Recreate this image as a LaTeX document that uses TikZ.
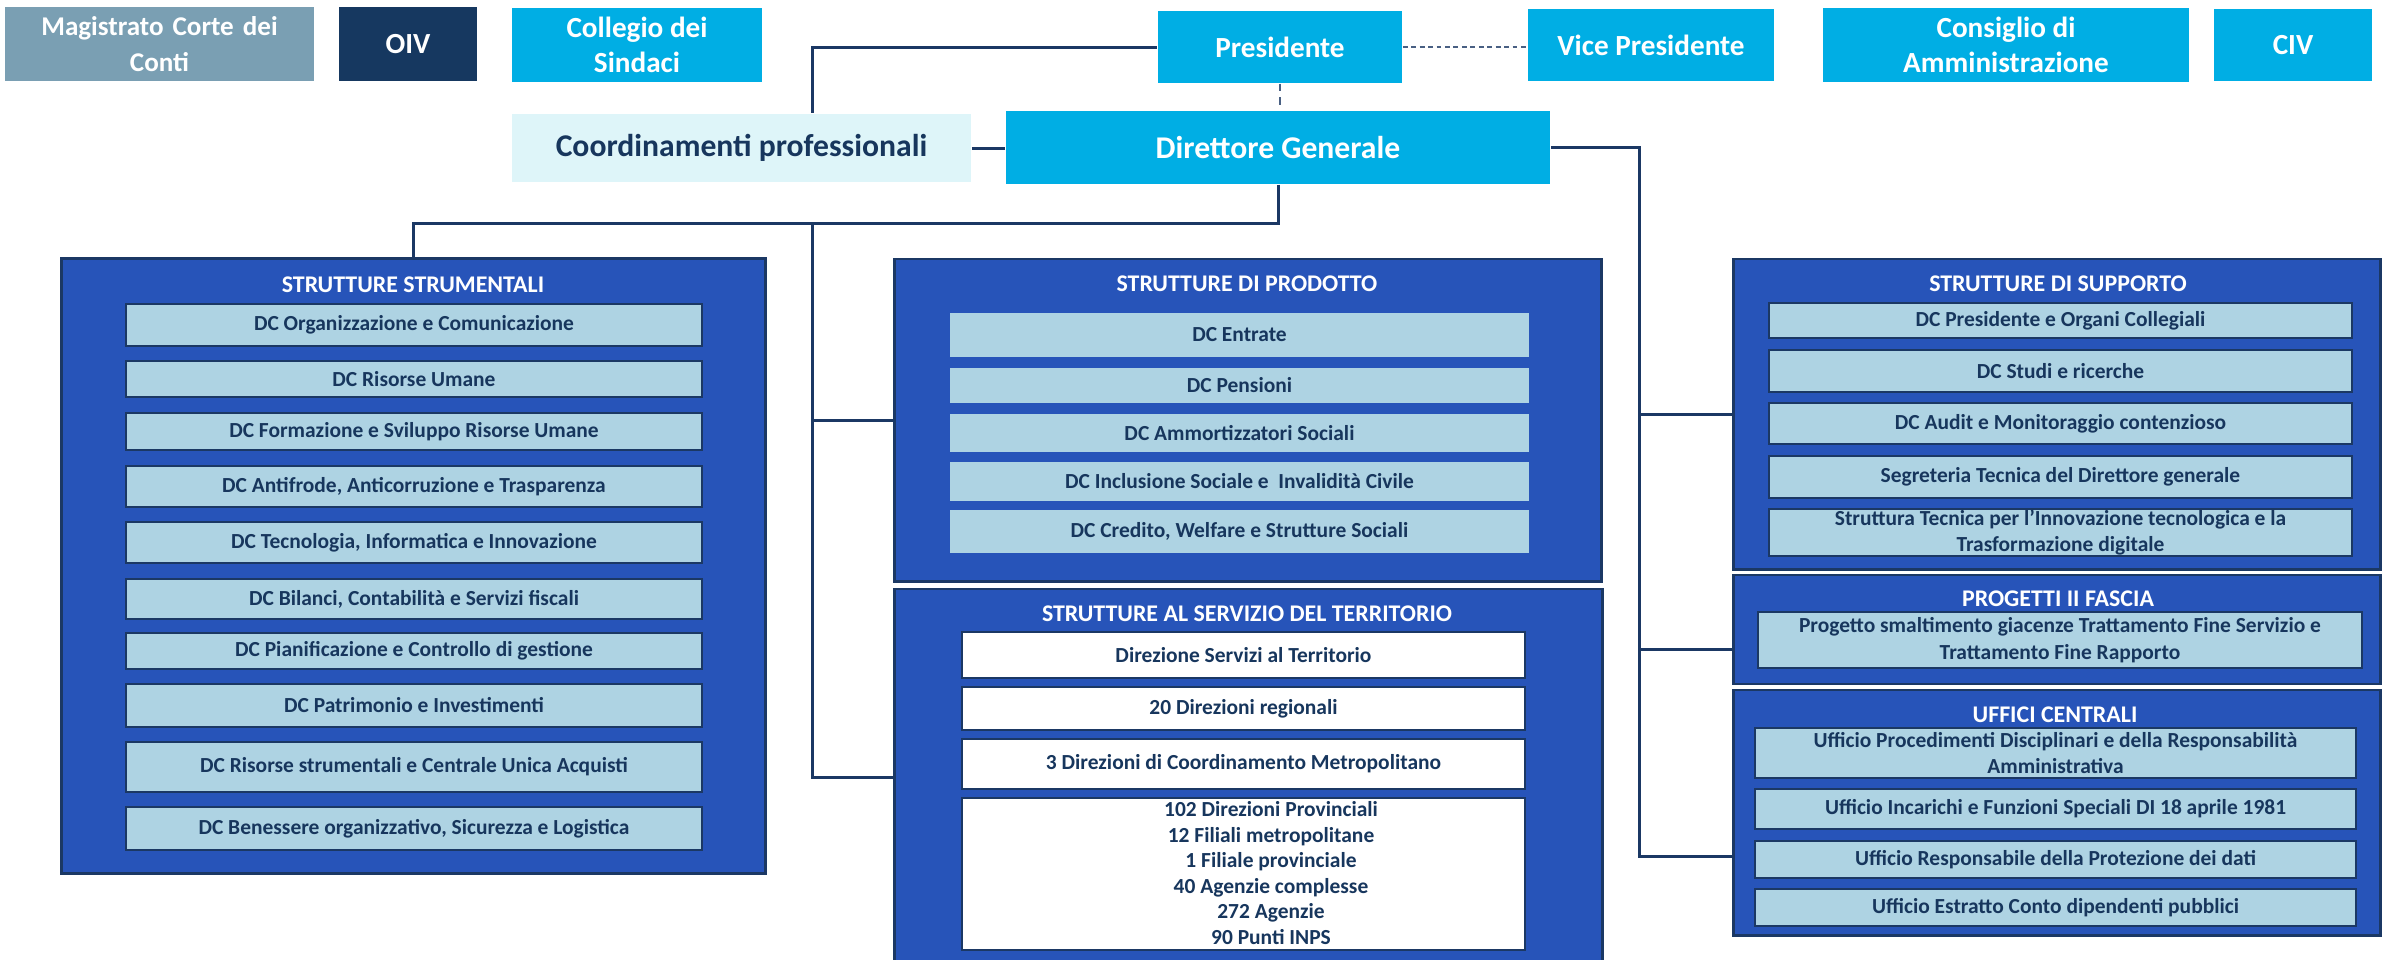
\documentclass[tikz,border=0pt]{standalone}
\usepackage{fontspec}
\setmainfont{Carlito}
\usepackage{tikz}

\begin{document}
\begin{tikzpicture}[x=0.01cm, y=-0.01cm,
        head/.style={inner sep=0pt, align=center, text=white, font=\fontsize{8.3}{10}\selectfont\bfseries},
        group/.style={fill=inblue, draw=innavy, line width=0.8pt, inner sep=0pt},
        grouptitle/.style={inner sep=0pt, text=white, font=\fontsize{6.8}{8}\selectfont\bfseries},
        unit/.style={fill=inlight, draw=innavy, line width=0.7pt, inner sep=0pt, align=center, text=intext, font=\fontsize{6.1}{7.5}\selectfont\bfseries},
        link/.style={draw=innavy, line width=0.85pt},
        dotlink/.style={draw=innavy!80, line width=0.5pt, dash pattern=on 1.4pt off 1pt}]
        % Define colours
        \definecolor{incyan}{RGB}{0,174,228}
        \definecolor{inblue}{RGB}{39,84,185}
        \definecolor{innavy}{RGB}{27,56,100}
        \definecolor{inlight}{RGB}{174,211,227}
        \definecolor{intext}{RGB}{23,54,93}
        \definecolor{ingrey}{RGB}{122,159,179}
        \definecolor{inoiv}{RGB}{22,56,96}
        \definecolor{incoord}{RGB}{222,245,249}
        \useasboundingbox (0,0) rectangle (2382,959);
        \clip (0,0) rectangle (2382,959);

        % Draw the top row
        \node[head, fill=ingrey, minimum width=3.09cm, minimum height=0.74cm, text width=2.9cm,
              font=\fontsize{7.7}{10}\selectfont\bfseries] (mag) at (159.5,44) {Magistrato Corte dei\\Conti};
        \node[head, fill=inoiv, minimum width=1.38cm, minimum height=0.74cm] (oiv) at (408,44) {OIV};
        \node[head, fill=incyan, minimum width=2.50cm, minimum height=0.74cm] (coll) at (637,45) {Collegio dei\\Sindaci};
        \node[head, fill=incyan, minimum width=2.44cm, minimum height=0.72cm] (pres) at (1280,47) {Presidente};
        \node[head, fill=incyan, minimum width=2.46cm, minimum height=0.72cm] (vice) at (1651,45) {Vice Presidente};
        \node[head, fill=incyan, minimum width=3.66cm, minimum height=0.74cm] (cda) at (2006,45) {Consiglio di\\Amministrazione};
        \node[head, fill=incyan, minimum width=1.57cm, minimum height=0.72cm] (civ) at (2293,45) {CIV};
        \node[head, fill=incoord, text=intext, font=\fontsize{9}{11}\selectfont\bfseries,
              minimum width=4.59cm, minimum height=0.68cm] (coord) at (741.5,148) {Coordinamenti professionali};
        \node[head, fill=incyan, font=\fontsize{9}{11}\selectfont\bfseries,
              minimum width=5.44cm, minimum height=0.73cm] (dg) at (1278,147.5) {Direttore Generale};

        % Draw the group frames
        \node[group, minimum width=7.03cm, minimum height=6.14cm] (strum) at (413.5,566) {};
        \node[group, minimum width=7.06cm, minimum height=3.22cm] (prod) at (1248,420) {};
        \node[group, minimum width=7.07cm, minimum height=3.76cm] (terr) at (1248.5,777) {};
        \node[group, minimum width=6.46cm, minimum height=3.10cm] (supp) at (2057,414) {};
        \node[group, minimum width=6.46cm, minimum height=1.09cm] (prog) at (2057,629.5) {};
        \node[group, minimum width=6.46cm, minimum height=2.45cm] (uff) at (2057,812.5) {};

        % Draw the group titles
        \node[grouptitle] (strumt) at (413,285) {STRUTTURE STRUMENTALI};
        \node[grouptitle] (prodt) at (1247,284) {STRUTTURE DI PRODOTTO};
        \node[grouptitle] (terrt) at (1247,614) {STRUTTURE AL SERVIZIO DEL TERRITORIO};
        \node[grouptitle] (suppt) at (2058,284) {STRUTTURE DI SUPPORTO};
        \node[grouptitle] (progt) at (2058,599) {PROGETTI II FASCIA};
        \node[grouptitle] (ufft) at (2055,715) {UFFICI CENTRALI};

        % Draw the boxes inside each group
        \foreach \y/\h/\n/\t in {325/0.42/s1/{DC Organizzazione e Comunicazione},
                379/0.36/s2/{DC Risorse Umane},
                431.5/0.37/s3/{DC Formazione e Sviluppo Risorse Umane},
                486.5/0.41/s4/{DC Antifrode, Anticorruzione e Trasparenza},
                542.5/0.41/s5/{DC Tecnologia, Informatica e Innovazione},
                599/0.40/s6/{DC Bilanci, Contabilità e Servizi fiscali},
                651/0.36/s7/{DC Pianificazione e Controllo di gestione},
                705.5/0.43/s8/{DC Patrimonio e Investimenti},
                767/0.50/s9/{DC Risorse strumentali e Centrale Unica Acquisti},
                828.5/0.43/s10/{DC Benessere organizzativo, Sicurezza e Logistica}} {
            \node[unit, minimum width=5.76cm, minimum height=\h cm] (\n) at (414,\y) {\t};
        }
        \foreach \y/\h/\n/\t in {335/0.44/p1/{DC Entrate},
                385.5/0.35/p2/{DC Pensioni},
                433/0.38/p3/{DC Ammortizzatori Sociali},
                481.5/0.39/p4/{DC Inclusione Sociale e\ \ Invalidità Civile},
                531.5/0.43/p5/{DC Credito, Welfare e Strutture Sociali}} {
            \node[unit, draw=none, minimum width=5.79cm, minimum height=\h cm] (\n) at (1239.5,\y) {\t};
        }
        \foreach \y/\h/\n/\t in {655/0.46/t1/{Direzione Servizi al Territorio},
                708.5/0.43/t2/{20 Direzioni regionali},
                764/0.50/t3/{3 Direzioni di Coordinamento Metropolitano}} {
            \node[unit, fill=white, minimum width=5.63cm, minimum height=\h cm] (\n) at (1243.5,\y) {\t};
        }
        \node[unit, fill=white, minimum width=5.63cm, minimum height=1.52cm] (t4) at (1243.5,874) {};
        \node[unit, fill=none, draw=none, font=\fontsize{6.1}{7.25}\selectfont\bfseries] (t4txt) at (1271,873)
              {102 Direzioni Provinciali\\12 Filiali metropolitane\\1 Filiale provinciale\\40 Agenzie complesse\\272 Agenzie\\90 Punti INPS};
        \foreach \y/\h/\n/\t in {320.5/0.35/u1/{DC Presidente e Organi Collegiali},
                371/0.42/u2/{DC Studi e ricerche},
                423.5/0.41/u3/{DC Audit e Monitoraggio contenzioso},
                477/0.42/u4/{Segreteria Tecnica del Direttore generale},
                532.5/0.47/u5/{Struttura Tecnica per l’Innovazione tecnologica e la\\Trasformazione digitale}} {
            \node[unit, minimum width=5.83cm, minimum height=\h cm] (\n) at (2060.5,\y) {\t};
        }
        \node[unit, minimum width=6.04cm, minimum height=0.56cm] (g1) at (2060,640)
              {Progetto smaltimento giacenze Trattamento Fine Servizio e\\Trattamento Fine Rapporto};
        \foreach \y/\h/\n/\t in {753/0.50/c1/{Ufficio Procedimenti Disciplinari e della Responsabilità\\Amministrativa},
                809/0.40/c2/{Ufficio Incarichi e Funzioni Speciali DI 18 aprile 1981},
                859.5/0.37/c3/{Ufficio Responsabile della Protezione dei dati},
                907.5/0.37/c4/{Ufficio Estratto Conto dipendenti pubblici}} {
            \node[unit, minimum width=6.01cm, minimum height=\h cm] (\n) at (2055.5,\y) {\t};
        }

        % Draw the connectors
        \coordinate (ltap) at (812,223);
        \coordinate (rtap) at (1639,856);
        \coordinate (ptap) at (1639,649);
        \draw[link] (pres.west) -| (ltap |- coord.north);
        \draw[dotlink] (pres.east) -- (pres.east -| vice.west);
        \draw[dotlink, dash pattern=on 2.2pt off 1.6pt] (pres.south) -- (pres.south |- dg.north);
        \draw[link] (coord.east) -- (coord.east -| dg.west);
        \draw[link] (dg.south) |- (ltap) -| (strum.north);
        \draw[link] (ltap) |- (terr.west);
        \draw[link] (ltap |- prod.west) -- (prod.west);
        \draw[link] (dg.east) -| (rtap) -- (rtap -| uff.west);
        \draw[link] (rtap |- supp.west) -- (supp.west);
        \draw[link] (ptap) -- (ptap -| prog.west);
\end{tikzpicture}
\end{document}
